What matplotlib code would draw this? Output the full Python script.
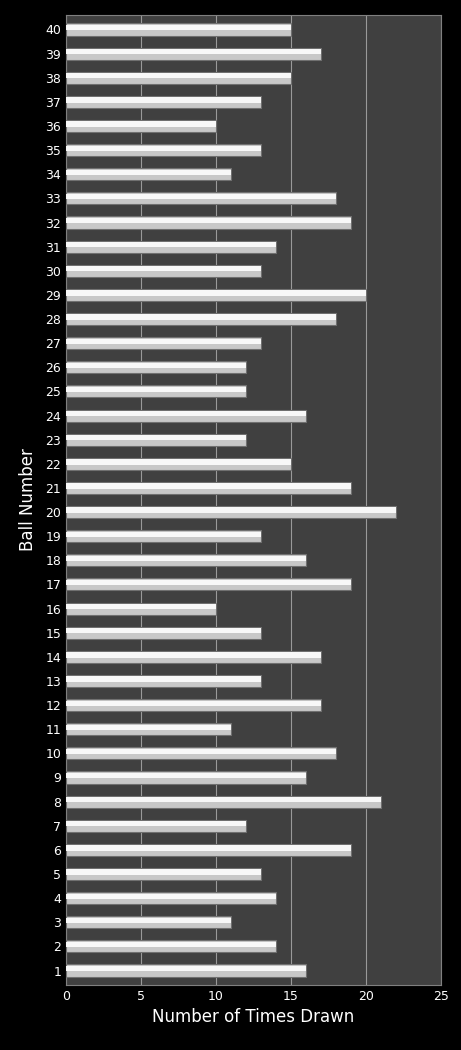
import matplotlib.pyplot as plt
import numpy as np

balls = list(range(1, 41))
times_drawn = [16, 14, 11, 14, 13, 19, 12, 21, 16, 18,
               11, 17, 13, 17, 13, 10, 19, 16, 13, 22,
               19, 15, 12, 16, 12, 12, 13, 18, 20, 13,
               14, 19, 18, 11, 13, 10, 13, 15, 17, 15]

fig = plt.figure(figsize=(4.61, 10.5), dpi=100, facecolor='black')
ax = fig.add_axes([66/461, 65/1050, 375/461, 970/1050])
ax.set_facecolor('#404040')

# bar body plus a lighter top half to fake the glossy gradient
ax.barh(balls, times_drawn, height=0.5, color='#c8c8c8', edgecolor='#707070', linewidth=0.8, zorder=3)
ax.barh(np.array(balls) + 0.08, times_drawn, height=0.22, color='#f8f8f8', linewidth=0, zorder=4)

ax.set_xlim(0, 25)
ax.set_ylim(0.4, 40.6)
ax.set_xticks([0, 5, 10, 15, 20, 25])
ax.set_yticks(balls)
ax.xaxis.grid(True, color='#9a9a9a', linewidth=0.8, zorder=0)
ax.tick_params(colors='white', labelsize=9, length=0)
for s in ax.spines.values():
    s.set_color('#808080')
ax.set_xlabel('Number of Times Drawn', color='white', fontsize=12)
ax.set_ylabel('Ball Number', color='white', fontsize=12, labelpad=6)

fig.savefig('out.png', dpi=100, facecolor='black')
